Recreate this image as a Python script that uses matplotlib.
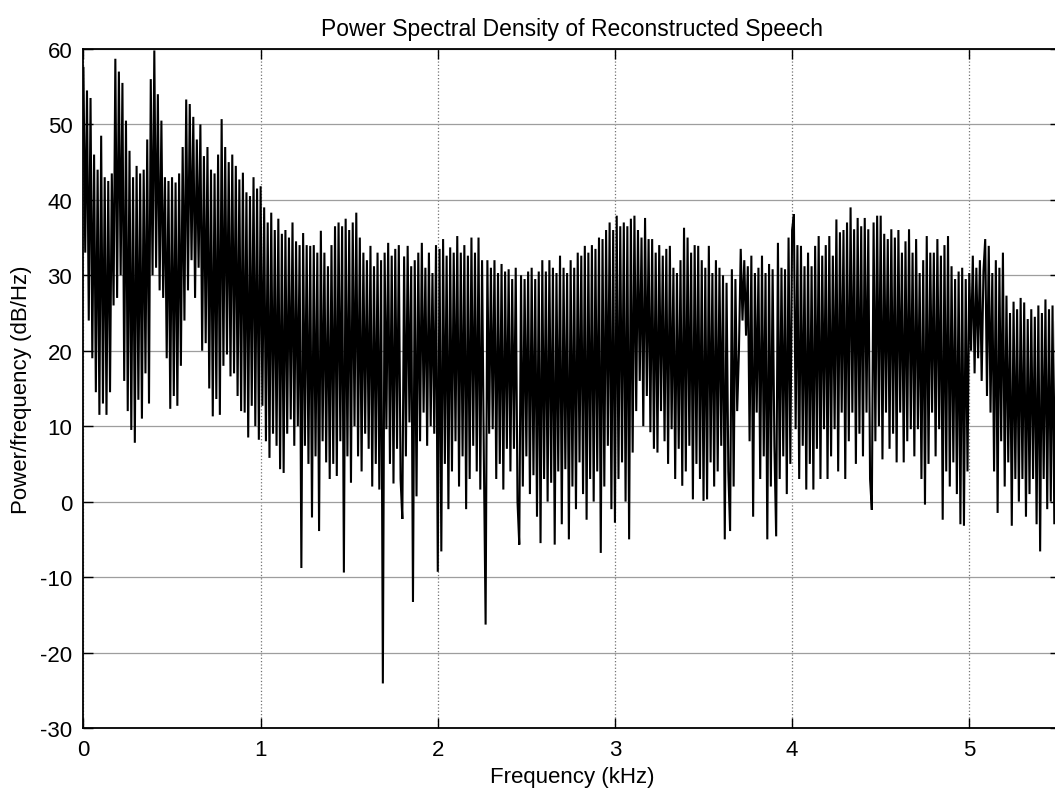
import matplotlib
matplotlib.use("Agg")
import numpy as np
import matplotlib.pyplot as plt

plt.rcParams["font.family"] = ["Liberation Sans", "DejaVu Sans"]
plt.rcParams["axes.unicode_minus"] = False

# PSD, one value every 0.01 kHz (dB/Hz)
psd_db = [
    57.5, 33, 54.5, 24, 53.5, 19, 46, 14.5, 44, 11.5,          # 0.0
    48.5, 13, 43, 11.5, 42.5, 14.5, 43.5, 26, 58.7, 27,        # 0.1
    57, 30, 55.5, 16, 50.5, 12, 46.5, 9.5, 43, 7.8,            # 0.2
    44.5, 13.5, 43.5, 11, 44, 17, 48, 13, 56, 30,              # 0.3
    59.8, 31, 54, 28, 50.5, 27, 43, 19, 42.5, 12.3,            # 0.4
    43, 14, 42.3, 12.7, 43.5, 18, 47, 24, 53.3, 28,            # 0.5
    52.7, 32, 51, 27, 48, 31, 50, 20, 45.8, 21,                # 0.6
    47, 15, 44, 11.3, 43.5, 13.6, 46, 11.5, 50.7, 18,          # 0.7
    47, 19.5, 45, 16.6, 46, 17, 44.5, 14, 42.7, 12,            # 0.8
    43.6, 11.8, 41, 8.5, 40.5, 12.7, 43, 10, 41.5, 8.2,        # 0.9
    41.8, 12.7, 39, 8, 37, 5.8, 38.3, 9, 36, 7.4,              # 1.0
    37.5, 4.3, 35.5, 3.8, 36, 9, 35, 10.9, 37, 7.4,            # 1.1
    34.5, 10, 34, -8.8, 35.6, 7.4, 34, 5, 33.9, -2.1,          # 1.2
    34, 6, 33, -3.9, 35.9, 8, 33, 5.2, 31.2, 3,                # 1.3
    34, 5, 36.5, 3.4, 37, 8, 36.5, -9.4, 37.5, 6,              # 1.4
    36, 2.5, 37, 10, 38.3, 6, 35, 4, 33, 9,                    # 1.5
    32, 7, 33.9, 2, 31.2, 5, 33, 1.6, 32, -24.1,               # 1.6
    33, 9.6, 34.3, 5, 32.6, 2.4, 33.5, 7, 34, 3,               # 1.7
    -2.3, 32.5, 6, 33.9, 10.5, 31.2, -13.3, 32, 0.7, 33,       # 1.8
    8, 34.3, 11.8, 31, 7.4, 33, 10, 30.3, 9, 34,               # 1.9
    -9.3, 33.5, -6.6, 34.8, 5, 32.6, -1, 33.7, 4, 33,          # 2.0
    8, 35.2, 2, 33, 6, 34, -1, 32.6, 3, 35,                    # 2.1
    7.4, 33, 4, 35, 1.6, 32, 6, -16.3, 32, 9,                  # 2.2
    31, 9.6, 32, 3, 30.3, 5, 31.5, 1.6, 30.5, 7,               # 2.3
    30.8, 4, 29.5, 7, 31, 0, -5.7, 30, 2, 29.5,                # 2.4
    6, 30.5, 1, 31, 3.5, 29.5, -2, 30.5, -5.5, 32,             # 2.5
    3, 30.5, 0, 32, 2.5, 31, -5.7, 30.3, 4, 32.6,              # 2.6
    -3, 31, 4.3, 30.3, -5, 32, 2, 31, -1, 33,                  # 2.7
    5.2, 32.6, 1, 33.9, -2.4, 33, 3, 34, 0, 33.5,              # 2.8
    4, 35, -6.8, 34.8, 2, 36, 7.4, 37, -1, 36,                 # 2.9
    -2.8, 37.9, 3, 36.5, 5.2, 37, 0, 36.5, -5, 37.5,           # 3.0
    6.5, 37.9, 12, 36, 16, 35, 10, 37.6, 14, 34.8,             # 3.1
    9.2, 34.8, 7, 33, 6.5, 34, 12, 32.6, 8, 33.5,              # 3.2
    5, 33.9, 9.6, 31, 3, 30.3, 7, 32, 2.1, 36.3,               # 3.3
    4, 35, 7.4, 33, 0.3, 34, 5, 33.9, 3, 32,                   # 3.4
    0.1, 31, 0.3, 33.9, 5.2, 30.3, 2, 32, 4, 31,               # 3.5
    7.4, 30, -5, 29, 4, -3.9, 30.8, 2, 29.5, 12,               # 3.6
    20, 33.5, 24, 32, 22, 31.2, 8, 32.6, -2, 30.3,             # 3.7
    11.8, 31, 3, 32.6, 6, 30.3, -5, 31.5, 2, 30.8,             # 3.8
    7.4, -4.6, 34.3, 3, 31, 6, 30.8, 1, 35, 5,                 # 3.9
    36, 38.1, 9.6, 34, 3, 33.9, 7.4, 31.2, 1.6, 33,            # 4.0
    5, 31.2, 1.6, 33.9, 7, 35.2, 3, 32.6, 9.6, 34,             # 4.1
    3, 35.2, 6, 32.6, 9.6, 37.4, 4, 35.7, 11.8, 36,            # 4.2
    3, 37, 8, 39, 11.8, 36.1, 5, 37.6, 9, 36.5,                # 4.3
    6, 37.6, 11.8, 36.1, 3, -1.1, 37, 8, 37.9, 10,             # 4.4
    37.9, 5.6, 35.5, 11.8, 34.8, 7, 36.1, 9, 35, 5.2,          # 4.5
    36, 11.8, 33, 5.2, 34.5, 8, 36.1, 9.6, 33, 6,              # 4.6
    34.8, 9.6, 30.3, 3, 32, -0.4, 35.2, 5, 33, 11.8,           # 4.7
    33, 6, 34.8, 9.6, 32.6, -2.4, 34, 4, 35.2, 2,              # 4.8
    31.2, 5.2, 29.5, 1, 30.5, -3, 31, -3.2, 29.5, 4,           # 4.9
    30.3, 20, 32.6, 17, 31, 19, 32, 16, 30.5, 34.8,            # 5.0
    14, 33.9, 11.8, 30.3, 4, 32, -1.5, 31, 8, 33,              # 5.1
    2, 27.3, 5.2, 25, -3.2, 26.5, 3, 25.5, 0, 27,              # 5.2
    3, 26.4, -2, 24.2, 1, 25.5, 3, 24.5, -3, 26,               # 5.3
    -6.6, 25, 3, 26.8, -1, 25.5, 0, 26, -3, 25,                # 5.4
    1, 26,                                                     # 5.5
]
freq_khz = np.arange(len(psd_db)) * 0.01

x_ticks = [0, 1, 2, 3, 4, 5]
y_ticks = [-30, -20, -10, 0, 10, 20, 30, 40, 50, 60]

fig = plt.figure(figsize=(10.55, 8.03), dpi=100)
ax = fig.add_axes([0.0791, 0.0922, 0.9257, 0.8456])
ax.plot(freq_khz, psd_db, color="black", lw=1.5, solid_joinstyle="miter")

ax.set_xlim(0, 5.5125)
ax.set_ylim(-30, 60)
ax.set_xticks(x_ticks)
ax.set_yticks(y_ticks)
ax.grid(axis="y", ls="-", color="0.62", lw=0.9)
ax.grid(axis="x", ls=":", color="0.45", lw=0.9)
ax.tick_params(direction="in", length=7, width=1, top=True, right=True,
               labelsize=16, pad=8)
for s in ax.spines.values():
    s.set_linewidth(1.3)

ax.set_title("Power Spectral Density of Reconstructed Speech", fontsize=16.5, pad=10)
ax.set_xlabel("Frequency (kHz)", fontsize=16, labelpad=4)
ax.set_ylabel("Power/frequency (dB/Hz)", fontsize=16, labelpad=6)

fig.savefig("out.png", dpi=100)
